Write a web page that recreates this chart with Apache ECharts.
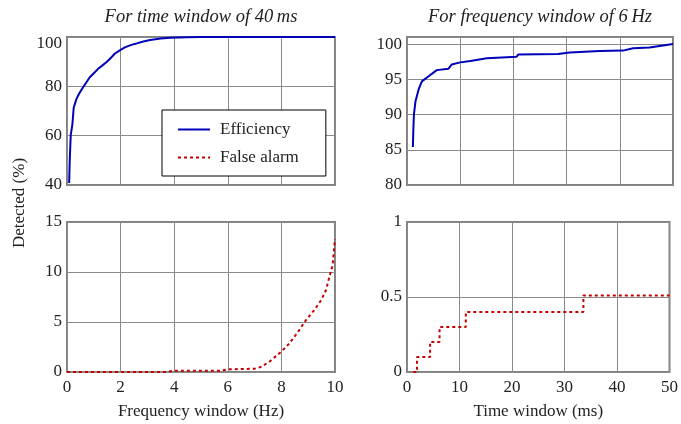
<!DOCTYPE html>
<html>
<head>
<meta charset="utf-8">
<script src="https://cdn.jsdelivr.net/npm/echarts@6/dist/echarts.min.js"></script>
<style>html,body{margin:0;padding:0;background:#fff}#c{width:681px;height:424px}</style>
</head>
<body>
<div id="c"></div>
<script>
// Efficiency vs frequency window (time window 40 ms)
var effFreqX = [0.08,0.1,0.12,0.14,0.2,0.25,0.35,0.45,0.6,0.85,1.0,1.16,1.3,1.48,1.65,1.79,2.0,2.16,2.4,2.6,2.85,3.1,3.5,3.85,4.5,5,6,7,8,9,10];
var effFreqY = [40.8,49,55,60.3,64.5,71.3,74.8,77,79.6,83.7,85.3,87.1,88.3,89.9,91.7,93.3,94.8,95.8,96.8,97.4,98.2,98.8,99.4,99.7,99.9,100,100,100,100,100,100];
// Efficiency vs time window (frequency window 6 Hz)
var effTimeX = [1.1,1.2,1.3,1.6,2.2,2.8,4.0,5.6,7.8,8.4,10,11.9,15,20.6,20.9,28.4,30.6,36.2,40.6,42.5,45.6,50];
var effTimeY = [85.4,88,90,91.9,93.6,94.7,95.4,96.3,96.5,97.1,97.4,97.6,98.0,98.2,98.5,98.6,98.8,99.0,99.07,99.4,99.5,100];
// False alarm vs frequency window
var faFreqX = [0,3.7,4.0,5.7,6.0,7.0,7.23,7.54,7.98,8.29,8.66,8.91,9.22,9.48,9.66,9.79,9.91,10];
var faFreqY = [0,0,0.13,0.13,0.27,0.33,0.5,1.0,2.0,2.83,4.17,5.17,6.17,7.17,8.17,9.5,10.67,13.3];
// False alarm vs time window (steps)
var faTimeX = [1.2,1.9,4.4,6.2,11.2,33.6,50];
var faTimeY = [0,0.1,0.2,0.3,0.4,0.51,0.51];

var titles = ['For time window of 40\u2009ms', 'For frequency window of 6\u2009Hz'];
var xNames = ['Frequency window (Hz)', 'Time window (ms)'];
var yName = 'Detected (%)';

function pairs(xs, ys){ return xs.map(function(x,i){ return [x, ys[i]]; }); }

var FONT = 'Liberation Serif';
var FS = 17;
var TXT = '#222';
var GRIDC = '#8a8a8a';
var BLUE = '#0000b8';
var RED = '#c40000';

function gridDef(l,t,w,h){ return {left:l, top:t, width:w, height:h, show:true, borderColor:'#808080', borderWidth:2, backgroundColor:'transparent'}; }
function xAx(idx, min, max, interval, showLabel, name){
  return {type:'value', gridIndex:idx, min:min, max:max, interval:interval,
    axisLine:{show:false}, axisTick:{show:false},
    splitLine:{show:true, lineStyle:{color:GRIDC, width:1}},
    axisLabel:{show:showLabel, color:TXT, fontFamily:FONT, fontSize:FS, margin:7},
    name: name || '', nameLocation:'middle', nameGap:31,
    nameTextStyle:{color:TXT, fontFamily:FONT, fontSize:FS}};
}
function yAx(idx, min, max, interval, fmt, rich){
  return {type:'value', gridIndex:idx, min:min, max:max, interval:interval,
    axisLine:{show:false}, axisTick:{show:false},
    splitLine:{show:true, lineStyle:{color:GRIDC, width:1}},
    axisLabel:{color:TXT, fontFamily:FONT, fontSize:FS, margin:5, formatter: fmt, rich: rich}};
}

var chart = echarts.init(document.getElementById('c'), null, {renderer:'canvas'});
chart.setOption({
  animation:false,
  backgroundColor:'#fff',
  grid:[gridDef(67,37,268,148), gridDef(407,37,266,148), gridDef(67,222,268,150), gridDef(407,222,266,150)],
  xAxis:[xAx(0,0,10,2,false), xAx(1,0,50,10,false), xAx(2,0,10,2,true,xNames[0]), xAx(3,0,50,10,true,xNames[1])],
  yAxis:[
    yAx(0,40,100,20,function(v){ return v===100 ? '{d|100}' : String(v); },
        {d:{fontFamily:FONT, fontSize:FS, color:TXT, padding:[14,0,0,0]}}),
    yAx(1,80,101,5,function(v){ return v%5===0 ? String(v) : ''; }),
    yAx(2,0,15,5),
    yAx(3,0,1,0.5,function(v){ return v===0.5 ? '0.5' : String(v); })
  ],
  legend:{
    left:162, top:110, orient:'vertical',
    data:['Efficiency','False alarm'],
    itemWidth:32, itemHeight:14, itemGap:11,
    padding:[11,27,10,15],
    borderColor:'#000', borderWidth:1, backgroundColor:'#fff',
    itemStyle:{opacity:0},
    textStyle:{color:TXT, fontFamily:FONT, fontSize:FS, padding:[0,0,0,5]},
    selectedMode:false
  },
  graphic:[
    {type:'text', style:{text:titles[0], x:201, y:17, align:'center', verticalAlign:'middle', font:'italic 18.5px "Liberation Serif"', fill:TXT}, silent:true},
    {type:'text', style:{text:titles[1], x:540, y:17, align:'center', verticalAlign:'middle', font:'italic 18.5px "Liberation Serif"', fill:TXT}, silent:true},
    {type:'text', x:20, y:203, rotation:Math.PI/2, style:{text:yName, x:0, y:0, align:'center', verticalAlign:'middle', font:FS+'px "Liberation Serif"', fill:TXT}, silent:true}
  ],
  series:[
    {name:'Efficiency', type:'line', xAxisIndex:0, yAxisIndex:0, data:pairs(effFreqX, effFreqY), showSymbol:false, symbol:'none', lineStyle:{color:BLUE, width:2}, itemStyle:{color:BLUE}, z:5},
    {name:'Efficiency', type:'line', xAxisIndex:1, yAxisIndex:1, data:pairs(effTimeX, effTimeY), showSymbol:false, symbol:'none', lineStyle:{color:BLUE, width:2}, itemStyle:{color:BLUE}, z:5},
    {name:'False alarm', type:'line', xAxisIndex:2, yAxisIndex:2, data:pairs(faFreqX, faFreqY), showSymbol:false, symbol:'none', lineStyle:{color:RED, width:2, type:[3,3]}, itemStyle:{color:RED}, z:5},
    {name:'False alarm', type:'line', xAxisIndex:3, yAxisIndex:3, step:'end', data:pairs(faTimeX, faTimeY), showSymbol:false, symbol:'none', lineStyle:{color:RED, width:2, type:[3,3]}, itemStyle:{color:RED}, z:5}
  ]
});
</script>
</body>
</html>
